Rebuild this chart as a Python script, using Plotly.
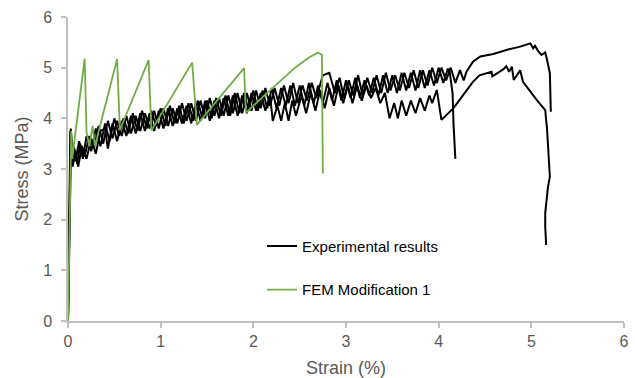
import plotly.graph_objects as go

# ---------------- data ----------------
# Experimental specimen A (ends near 4.2 % strain)
exp_a_strain = [0, 0.01, 0.025, 0.04, 0.06, 0.08, 0.12, 0.16, 0.20, 0.25, 0.30, 0.35, 0.40, 0.45, 0.50,
                0.55, 0.60, 0.65, 0.70, 0.75, 0.80, 0.85, 0.90, 0.95, 1.00, 1.05, 1.10, 1.15, 1.20, 1.25,
                1.30, 1.35, 1.40, 1.45, 1.50, 1.55, 1.60, 1.65, 1.70, 1.75, 1.80, 1.85, 1.90, 1.95, 2.00,
                2.05, 2.10, 2.15, 2.20, 2.25, 2.30, 2.35, 2.40, 2.45, 2.50, 2.55, 2.60, 2.65, 2.70, 2.75,
                2.80, 2.85, 2.90, 2.95, 3.00, 3.05, 3.10, 3.15, 3.20, 3.25, 3.30, 3.35, 3.40, 3.45, 3.50,
                3.55, 3.60, 3.65, 3.70, 3.75, 3.80, 3.85, 3.90, 3.95, 4.00, 4.05, 4.10, 4.12, 4.15, 4.16,
                4.17, 4.18]
exp_a_stress = [0, 1.5, 3.75, 3.1, 3.45, 3.15, 3.55, 3.2, 3.65, 3.35, 3.8, 3.45, 3.9, 3.55, 4.0,
                3.65, 4.0, 3.7, 4.1, 3.75, 4.15, 3.8, 4.15, 3.85, 4.2, 3.85, 4.25, 3.9, 4.25, 3.9,
                4.3, 3.95, 4.35, 4.0, 4.35, 4.0, 4.4, 4.05, 4.45, 4.05, 4.5, 4.1, 4.5, 4.15, 4.55,
                4.15, 4.55, 4.2, 4.6, 4.2, 4.6, 4.25, 4.65, 4.25, 4.65, 4.25, 4.7, 4.3, 4.65, 4.3,
                4.7, 4.35, 4.75, 4.35, 4.75, 4.4, 4.8, 4.4, 4.75, 4.45, 4.8, 4.45, 4.85, 4.5, 4.85,
                4.5, 4.9, 4.55, 4.9, 4.55, 4.95, 4.6, 4.95, 4.65, 5.0, 4.7, 4.98, 4.9, 4.5, 3.9,
                3.5, 3.2]

# Experimental specimen B (drop near 4.0 %, ends near 5.2 %)
exp_b_strain = [0, 0.02, 0.035, 0.05, 0.08, 0.11, 0.15, 0.20, 0.25, 0.30, 0.35, 0.40, 0.43, 0.48, 0.53,
                0.58, 0.63, 0.68, 0.73, 0.78, 0.83, 0.88, 0.93, 0.98, 1.03, 1.08, 1.13, 1.18, 1.23, 1.28,
                1.33, 1.38, 1.43, 1.48, 1.53, 1.58, 1.63, 1.68, 1.73, 1.78, 1.83, 1.88, 1.93, 1.98, 2.03,
                2.08, 2.13, 2.18, 2.21, 2.26, 2.30, 2.34, 2.38, 2.42, 2.46, 2.52, 2.57, 2.62, 2.67, 2.72,
                2.77, 2.82, 2.87, 2.92, 2.97, 3.02, 3.07, 3.12, 3.17, 3.22, 3.27, 3.32, 3.37, 3.42, 3.47,
                3.52, 3.56, 3.60, 3.65, 3.70, 3.75, 3.80, 3.85, 3.90, 3.93, 3.98, 4.03, 4.16, 4.30, 4.37,
                4.44, 4.57, 4.58, 4.70, 4.73, 4.76, 4.79, 4.81, 4.88, 4.91, 5.06, 5.15, 5.17, 5.19, 5.20,
                5.18, 5.15, 5.15, 5.16]
exp_b_stress = [0, 2.5, 3.7, 3.05, 3.35, 3.05, 3.45, 3.2, 3.6, 3.3, 3.75, 3.8, 3.4, 3.9, 3.55,
                3.95, 3.65, 4.05, 3.7, 4.1, 3.75, 4.1, 3.75, 4.15, 3.8, 4.2, 3.85, 4.2, 3.9, 4.25,
                3.9, 4.3, 3.95, 4.35, 3.95, 4.35, 4.0, 4.4, 4.05, 4.45, 4.05, 4.45, 4.1, 4.5, 4.15,
                4.5, 4.15, 4.45, 3.95, 4.25, 3.95, 4.3, 3.95, 4.35, 4.05, 4.45, 4.1, 4.5, 4.15, 4.55,
                4.2, 4.6, 4.25, 4.65, 4.3, 4.65, 4.3, 4.65, 4.35, 4.65, 4.4, 4.6, 4.3, 4.5, 4.0,
                4.3, 4.0, 4.35, 4.05, 4.35, 4.1, 4.4, 4.15, 4.45, 4.3, 4.56, 3.97, 4.2, 4.55, 4.72,
                4.85, 4.92, 4.83, 4.97, 5.03, 4.92, 5.02, 4.76, 4.95, 4.72, 4.36, 4.16, 3.77, 3.11, 2.85,
                2.65, 2.13, 1.86, 1.5]

# Experimental specimen C (ends near 5.2 %, highest peak)
exp_c_strain = [0, 0.015, 0.03, 0.045, 0.07, 0.10, 0.13, 0.18, 0.23, 0.28, 0.33, 0.38, 0.43, 0.48, 0.53,
                0.58, 0.63, 0.68, 0.73, 0.78, 0.83, 0.88, 0.93, 0.98, 1.03, 1.08, 1.13, 1.18, 1.23, 1.28,
                1.33, 1.38, 1.43, 1.48, 1.53, 1.58, 1.63, 1.68, 1.73, 1.78, 1.83, 1.88, 1.93, 1.98, 2.03,
                2.08, 2.13, 2.18, 2.23, 2.28, 2.33, 2.38, 2.43, 2.48, 2.53, 2.58, 2.63, 2.68, 2.75, 2.82,
                2.88, 2.93, 2.98, 3.03, 3.08, 3.13, 3.18, 3.23, 3.28, 3.33, 3.38, 3.43, 3.48, 3.53, 3.58,
                3.63, 3.68, 3.73, 3.78, 3.83, 3.88, 3.93, 3.98, 4.03, 4.08, 4.13, 4.18, 4.23, 4.27, 4.30,
                4.37, 4.45, 4.59, 4.73, 4.87, 4.99, 5.02, 5.04, 5.08, 5.11, 5.15, 5.17, 5.20, 5.21]
exp_c_stress = [0, 2.0, 3.8, 3.1, 3.4, 3.1, 3.5, 3.25, 3.65, 3.4, 3.85, 3.5, 3.95, 3.6, 3.95,
                3.65, 4.05, 3.7, 4.05, 3.75, 4.1, 3.8, 4.15, 3.8, 4.2, 3.85, 4.2, 3.9, 4.3, 3.95,
                4.3, 3.95, 4.35, 4.0, 4.4, 4.05, 4.4, 4.05, 4.45, 4.1, 4.5, 4.1, 4.5, 4.15, 4.55,
                4.2, 4.6, 4.25, 4.6, 4.25, 4.65, 4.3, 4.7, 4.3, 4.65, 4.35, 4.7, 4.4, 4.85, 4.9,
                4.5, 4.8, 4.4, 4.75, 4.45, 4.85, 4.45, 4.8, 4.5, 4.85, 4.5, 4.9, 4.55, 4.85, 4.55,
                4.9, 4.6, 4.95, 4.6, 4.95, 4.65, 5.0, 4.7, 5.0, 4.75, 5.0, 4.7, 4.95, 4.75, 4.92,
                5.12, 5.22, 5.27, 5.35, 5.41, 5.48, 5.38, 5.43, 5.31, 5.25, 5.30, 5.15, 4.89, 4.13]

# FEM Modification 1
fem_strain = [0, 0.02, 0.035, 0.045, 0.18, 0.20, 0.23, 0.265, 0.29, 0.53, 0.56, 0.87, 0.90,
              1.34, 1.39, 1.90, 1.92, 2.10, 2.30, 2.45, 2.60, 2.70, 2.74, 2.75]
fem_stress = [0, 2.4, 3.75, 3.2, 5.18, 3.72, 3.45, 3.85, 3.45, 5.17, 3.77, 5.15, 3.76,
              5.10, 3.87, 4.99, 4.11, 4.42, 4.75, 5.0, 5.2, 5.30, 5.25, 2.91]

x_ticks = [0, 1, 2, 3, 4, 5, 6]
y_ticks = [0, 1, 2, 3, 4, 5, 6]

# ---------------- figure ----------------
exp_x = exp_a_strain + [None] + exp_b_strain + [None] + exp_c_strain
exp_y = exp_a_stress + [None] + exp_b_stress + [None] + exp_c_stress

FONT = "Liberation Sans, Arial, sans-serif"
GRAY = "#595959"
AXIS = "#BFBFBF"

fig = go.Figure()
fig.add_trace(go.Scatter(x=exp_x, y=exp_y, mode="lines", name="Experimental results",
                         line=dict(color="#000000", width=2), legendgroup="a"))
fig.add_trace(go.Scatter(x=fem_strain, y=fem_stress, mode="lines", name="FEM Modification 1",
                         line=dict(color="#70AD47", width=1.8), legendgroup="b"))

fig.update_layout(
    width=635, height=378,
    margin=dict(l=68, r=11, t=17, b=57),
    paper_bgcolor="white", plot_bgcolor="white",
    font=dict(family=FONT, color=GRAY, size=16),
    showlegend=True,
    legend=dict(x=0.349, y=0.30, xanchor="left", yanchor="top",
                font=dict(family=FONT, size=15, color="#000000"),
                bgcolor="rgba(0,0,0,0)", tracegroupgap=21, traceorder="grouped"),
    xaxis=dict(range=[0, 6], tickvals=x_ticks, ticktext=[str(v) for v in x_ticks],
               showgrid=False, zeroline=False, showline=True, linecolor=AXIS, linewidth=1.5,
               ticks="outside", ticklen=5, tickcolor=AXIS, tickwidth=1.5, automargin=False,
               tickfont=dict(size=16, color=GRAY),
               title=dict(text="Strain (%)", font=dict(size=18, color=GRAY), standoff=14)),
    yaxis=dict(range=[0, 6], tickvals=y_ticks, ticktext=[str(v) for v in y_ticks],
               showgrid=False, zeroline=False, showline=True, linecolor=AXIS, linewidth=1.5,
               ticks="outside", ticklen=5, tickcolor=AXIS, tickwidth=1.5, automargin=False,
               tickfont=dict(size=16, color=GRAY), ticklabelstandoff=6,
               title=dict(text="Stress (MPa)", font=dict(size=18, color=GRAY), standoff=10)),
)

fig.write_html("out.html")
